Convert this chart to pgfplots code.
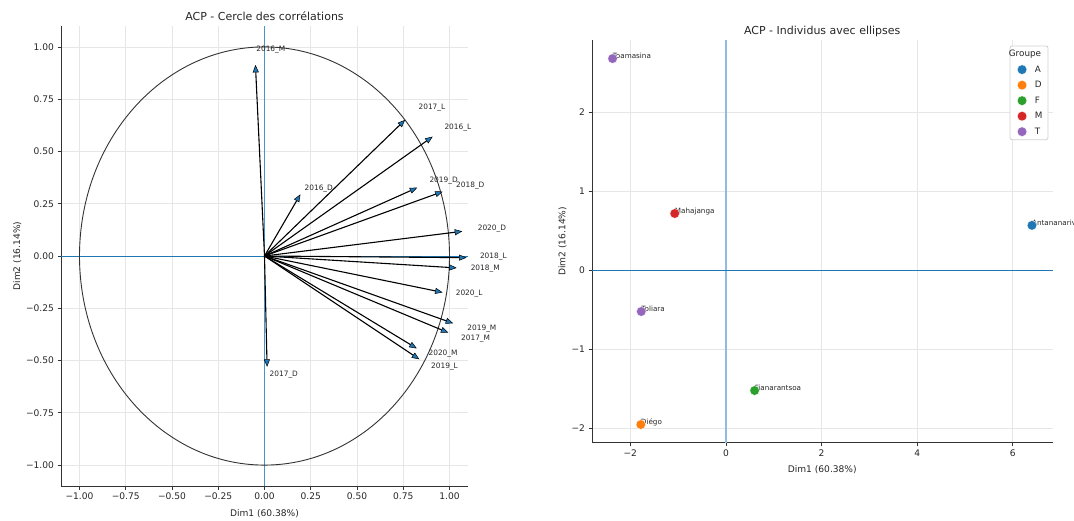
\documentclass[border=0pt]{standalone}
\usepackage{pgfplots}
\pgfplotsset{compat=1.18}
\usetikzlibrary{arrows.meta}
\usepackage{fontspec}
\setmainfont{DejaVu Sans}
\definecolor{mplblue}{HTML}{1F77B4}
\definecolor{lightblue}{HTML}{8FBCE0}
\definecolor{mplorange}{HTML}{FF7F0E}
\definecolor{mplgreen}{HTML}{2CA02C}
\definecolor{mplred}{HTML}{D62728}
\definecolor{mplpurple}{HTML}{9467BD}
\definecolor{gridc}{HTML}{E6E6E6}
\definecolor{txt}{HTML}{262626}
\pgfplotsset{
  every axis title shift=0pt,
  mystyle/.style={
    scale only axis, clip=false,
    axis x line*=bottom, axis y line*=left,
    axis line style={-, black!80, line width=0.8pt},
    tick align=outside, major tick length=3.5pt,
    tick style={black!80, line width=0.8pt},
    grid=major, major grid style={gridc, line width=0.8pt},
    tick label style={font=\fontsize{9.1}{11}\selectfont, text=txt},
    label style={font=\fontsize{9.1}{11}\selectfont, text=txt},
    xlabel style={yshift=-2.5pt},
    ylabel style={yshift=-2pt},
    title style={font=\fontsize{11}{13}\selectfont, text=txt, at={(0.5,1)}, anchor=base, yshift=6pt},
  },
}
\tikzset{
  arr/.style={black, line width=1.1pt, -{Triangle[length=7.5pt,width=6pt,fill=mplblue,line width=0.5pt]}},
  lab/.style={anchor=base west, font=\fontsize{7.4}{8}\selectfont, text=black!85, inner sep=0pt},
}
\begin{document}
\begin{tikzpicture}
\useasboundingbox (0pt,0pt) rectangle (1074pt,520pt);
% ---------------- Left: correlation circle
\begin{axis}[mystyle,
  at={(61pt,34pt)}, anchor=south west, width=407pt, height=460pt,
  xmin=-1.1, xmax=1.1, ymin=-1.1, ymax=1.1,
  xtick={-1,-0.75,-0.5,-0.25,0,0.25,0.5,0.75,1},
  xticklabels={−1.00,−0.75,−0.50,−0.25,0.00,0.25,0.50,0.75,1.00},
  ytick={-1,-0.75,-0.5,-0.25,0,0.25,0.5,0.75,1},
  yticklabels={−1.00,−0.75,−0.50,−0.25,0.00,0.25,0.50,0.75,1.00},
  xlabel={Dim1 (60.38\%)}, ylabel={Dim2 (16.14\%)},
  title={ACP - Cercle des corrélations},
]
\addplot[mplblue, line width=0.8pt] coordinates {(-1.1,0) (1.1,0)};
\addplot[mplblue!80, line width=0.8pt] coordinates {(0,-1.1) (0,1.1)};
\draw[black!80, line width=0.9pt] (axis cs:0,0) ellipse [x radius=1, y radius=1];
\addplot[arr] coordinates {(0,0) (-0.049,0.914)};  % 2016_M
\addplot[arr] coordinates {(0,0) (0.760,0.651)};   % 2017_L
\addplot[arr] coordinates {(0,0) (0.909,0.571)};   % 2016_L
\addplot[arr] coordinates {(0,0) (0.194,0.295)};   % 2016_D
\addplot[arr] coordinates {(0,0) (0.826,0.327)};   % 2019_D
\addplot[arr] coordinates {(0,0) (0.963,0.308)};   % 2018_D
\addplot[arr] coordinates {(0,0) (1.069,0.118)};   % 2020_D
\addplot[arr] coordinates {(0,0) (1.092,-0.008)};  % 2018_L
\addplot[arr] coordinates {(0,0) (1.039,-0.057)};  % 2018_M
\addplot[arr] coordinates {(0,0) (0.963,-0.174)};  % 2020_L
\addplot[arr] coordinates {(0,0) (1.020,-0.322)};  % 2019_M
\addplot[arr] coordinates {(0,0) (0.994,-0.367)};  % 2017_M
\addplot[arr] coordinates {(0,0) (0.823,-0.442)};  % 2020_M
\addplot[arr] coordinates {(0,0) (0.837,-0.494)};  % 2019_L
\addplot[arr] coordinates {(0,0) (0.014,-0.530)};  % 2017_D
\node[lab] at (axis cs:-0.045,0.977) {2016\_M};
\node[lab] at (axis cs:0.832,0.699) {2017\_L};
\node[lab] at (axis cs:0.972,0.603) {2016\_L};
\node[lab] at (axis cs:0.216,0.311) {2016\_D};
\node[lab] at (axis cs:0.891,0.351) {2019\_D};
\node[lab] at (axis cs:1.035,0.327) {2018\_D};
\node[lab] at (axis cs:1.152,0.120) {2020\_D};
\node[lab] at (axis cs:1.164,-0.014) {2018\_L};
\node[lab] at (axis cs:1.114,-0.067) {2018\_M};
\node[lab] at (axis cs:1.033,-0.190) {2020\_L};
\node[lab] at (axis cs:1.096,-0.354) {2019\_M};
\node[lab] at (axis cs:1.062,-0.402) {2017\_M};
\node[lab] at (axis cs:0.886,-0.478) {2020\_M};
\node[lab] at (axis cs:0.900,-0.537) {2019\_L};
\node[lab] at (axis cs:0.027,-0.574) {2017\_D};
\end{axis}
% ---------------- Right: individuals
\begin{axis}[mystyle,
  at={(592pt,77.3pt)}, anchor=south west, width=460.5pt, height=402.7pt,
  xmin=-2.8, xmax=6.83, ymin=-2.18, ymax=2.915,
  xtick={-2,0,2,4,6}, xticklabels={−2,0,2,4,6},
  ytick={-2,-1,0,1,2}, yticklabels={−2,−1,0,1,2},
  xlabel={Dim1 (60.38\%)}, ylabel={Dim2 (16.14\%)},
  title={ACP - Individus avec ellipses},
  legend style={at={(rel axis cs:0.991,0.986)}, anchor=north east,
    draw=black!18, line width=0.8pt, rounded corners=2pt, fill=white,
    font=\fontsize{8.8}{10}\selectfont, text=txt, row sep=3.6pt,
    inner xsep=3.5pt, inner ysep=2pt,
    /tikz/every odd column/.append style={column sep=6pt}},
  legend cell align=left,
]
\addplot[lightblue, line width=1.3pt, forget plot] coordinates {(0,-2.18) (0,2.915)};
\addplot[mplblue, line width=0.8pt, forget plot] coordinates {(-2.8,0) (6.83,0)};
\addlegendimage{empty legend}
\addlegendentry{\hspace*{-26pt}Groupe}
\addplot[only marks, mark=*, mark size=4.8pt, mark options={fill=mplblue, draw=white, line width=0.3pt}] coordinates {(6.40,0.57)};
\addlegendentry{A}
\addplot[only marks, mark=*, mark size=4.8pt, mark options={fill=mplorange, draw=white, line width=0.3pt}] coordinates {(-1.78,-1.95)};
\addlegendentry{D}
\addplot[only marks, mark=*, mark size=4.8pt, mark options={fill=mplgreen, draw=white, line width=0.3pt}] coordinates {(0.60,-1.52)};
\addlegendentry{F}
\addplot[only marks, mark=*, mark size=4.8pt, mark options={fill=mplred, draw=white, line width=0.3pt}] coordinates {(-1.07,0.72)};
\addlegendentry{M}
\addplot[only marks, mark=*, mark size=4.8pt, mark options={fill=mplpurple, draw=white, line width=0.3pt}] coordinates {(-2.37,2.68) (-1.77,-0.52)};
\addlegendentry{T}
\node[lab, font=\fontsize{7.2}{8}\selectfont] at (axis cs:6.40,0.57) {Antananarivo};
\node[lab, font=\fontsize{7.2}{8}\selectfont] at (axis cs:-1.78,-1.95) {Diégo};
\node[lab, font=\fontsize{7.2}{8}\selectfont] at (axis cs:0.60,-1.52) {Fianarantsoa};
\node[lab, font=\fontsize{7.2}{8}\selectfont] at (axis cs:-1.07,0.72) {Mahajanga};
\node[lab, font=\fontsize{7.2}{8}\selectfont] at (axis cs:-2.37,2.68) {Toamasina};
\node[lab, font=\fontsize{7.2}{8}\selectfont] at (axis cs:-1.77,-0.52) {Toliara};
\end{axis}
\end{tikzpicture}
\end{document}
